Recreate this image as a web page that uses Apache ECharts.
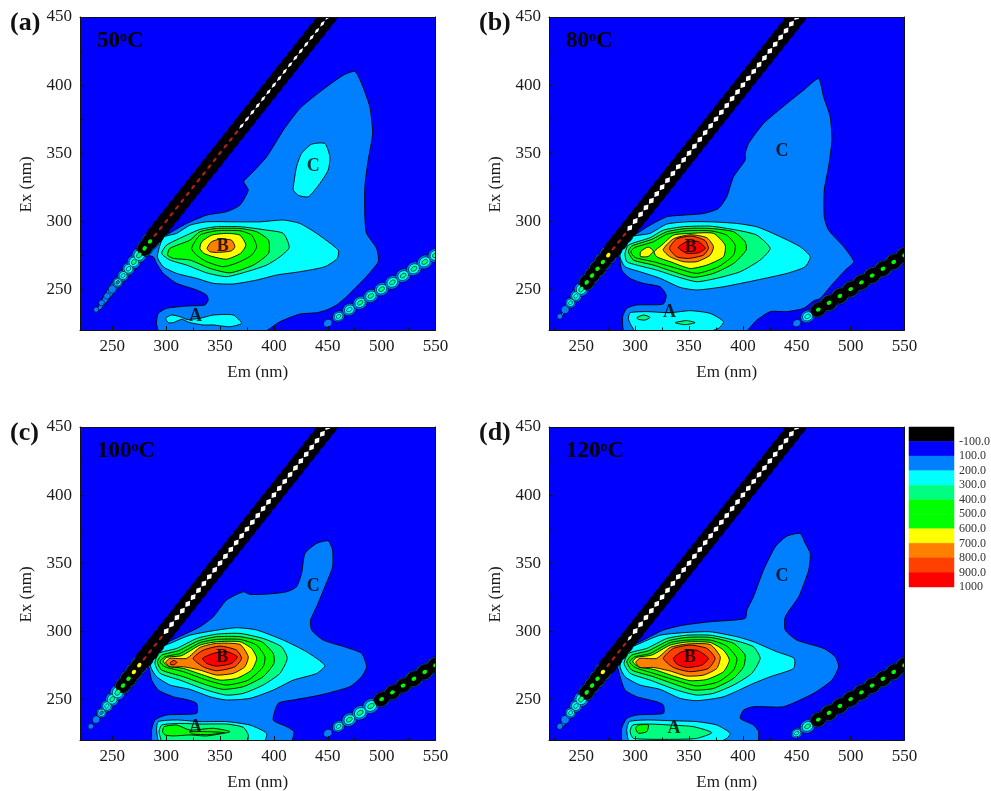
<!DOCTYPE html>
<html><head><meta charset="utf-8">
<style>html,body{margin:0;padding:0;background:#fff}#c{width:991px;height:791px;filter:blur(0.45px)}</style>
<script src="https://cdn.jsdelivr.net/npm/echarts@6/dist/echarts.min.js"></script>
</head><body><div id="c"></div>
<script>
// ---------- legend ----------
const legendLabels=['-100.0','100.0','200.0','300.0','400.0','500.0','600.0','700.0','800.0','900.0','1000'];
const legendColors=['#000000','#0000ff','#0080ff','#00ffff','#00ff80','#00ff00','#00ff00','#ffff00','#ff8000','#ff4000','#ff0000'];
const levels=[-100,100,200,300,400,500,600,700,800,900,1000];
// ---------- axes ----------
const majorX=[250,300,350,400,450,500,550];
const minorX=[225,275,325,375,425,475,525];
const majorY=[250,300,350,400,450];
const minorY=[225,275,325,375,425];
// ---------- contour outlines, [Em, Ex] in nm ----------
const a200=[[235.5,234.7],[248,253],[266,271],[282,287],[297.3,289],[319,298.3],[337.5,304.4],[356,306.9],[368.5,311.8],[376.2,322.8],[372,329],[377.7,333.8],[393.2,347.2],[408.7,366.8],[424,382.7],[442.7,395],[464.3,407.2],[475.2,410],[481.4,401],[489,384],[491.6,364.4],[487.5,344.8],[484.4,325.2],[484.4,303.2],[486,291],[495.3,280],[496.8,270.2],[484.4,258],[475.2,250.6],[467.4,244.5],[458.2,238.4],[448.9,234.7],[439.6,232.7],[424.1,231.7],[405.6,226.1],[388.6,218],[294.2,218],[291,224.9],[292.7,232.2],[300.4,235.9],[319,237.6],[336,238.4],[339,242],[337.5,245.7],[328.3,249.4],[309.7,254.3],[297.3,261.6],[291,269],[288,273.8],[281.9,274.3],[269.5,262.8],[252.5,248.1],[238.6,234.7]];
const a300=[[291.8,273.8],[297.3,288],[309.7,291],[322,297],[337.5,299.5],[362,299.5],[387,299.5],[408.7,300.8],[424,298.3],[439.6,291],[459.7,278.7],[458.8,272.6],[447.3,266.5],[424,262.8],[402.5,260.4],[384,256.7],[362,253.8],[343.7,254.3],[328,258],[309.7,261.6],[297.3,266.5]];
const a300A=[[299.5,228.6],[305,231],[312.8,229.8],[319,227.8],[331.3,228.6],[343.7,231],[362.3,231],[370,224.9],[359,222.4],[343.7,223.7],[334.4,223.7],[322,225.4],[314.3,227.8],[306.6,225.4],[302,225.4]];
const a300C=[[418,325.2],[421,339.9],[425.7,349.7],[435,356.5],[447.3,357],[452,347.2],[450.4,337.5],[442.7,327.7],[431.9,317.9],[422.6,319],[418,322.8]];
const a400=[[295.8,276.3],[300.4,282.4],[319,289.7],[331.3,293.9],[346.8,295.9],[368.5,295.9],[393.2,293.4],[408.7,291],[414.2,280.7],[405.6,273.8],[393.2,267.7],[374.6,262.8],[356,259.2],[337.5,262],[319,267.7],[303.5,271.4]];
const a500=[[301.3,275],[303.5,280],[322,286],[331.3,292.2],[346.8,294.6],[368.5,294.6],[384,292.2],[395,286],[395,276.3],[380.8,267.7],[359.2,262],[340.6,265.3],[322,271.4],[306.6,272.6]];
const a600=[[323.6,280],[331.3,289.7],[346.8,292.9],[368.5,292.9],[379.3,289.7],[384,281.2],[379.3,275],[367,269.7],[353,266.5],[337.5,270.2],[328.3,275]];
const a700=[[331.3,280],[333,284.8],[342.2,289.7],[356,291],[368.5,289.7],[374,282.4],[369,276.3],[356,272],[343.7,273.8],[335,276.3]];
const a800=[[338,280],[342,284.8],[350,286.8],[360.7,286],[363.8,281.2],[360.7,278.2],[348.4,277],[340.6,277.5]];

const b200=[[230.2,229.8],[243,248],[262,267],[282,287],[298.4,289.7],[313.8,297],[329.3,303.2],[344.8,304.4],[363.4,305.6],[377.3,309.3],[385,317.9],[391.3,332.6],[402.1,344.8],[402.1,349.7],[405.2,357],[419.1,371.7],[440.8,386.4],[456.3,396.2],[470.2,404.7],[474.9,391.3],[481,376.6],[482.6,359.5],[479.5,339.9],[475.5,322.8],[475.5,303.2],[479.5,293.4],[493.5,281.2],[502.8,270.2],[495,264],[481,251.8],[471.8,243.2],[465.6,241.5],[456.3,235.9],[440.8,233.5],[425.3,233.5],[412.9,227.3],[400.6,218],[290.6,218],[288.4,229.8],[292.2,235.9],[301.5,238.4],[326.2,239.1],[328.7,245.7],[323.1,251.8],[307.6,254.3],[295.3,257.9],[287.5,264],[285,273.8],[279.8,273.8],[264.3,260.4],[248.8,248.1],[233.3,231]];
const b300=[[286,273.8],[288.4,284.8],[298.4,289],[313.8,291],[329.3,297.8],[347.9,299.5],[369.6,299.5],[394.3,298.3],[412.9,295.8],[431.5,289.7],[453.1,281.2],[462.5,273.8],[457.8,266.5],[440.8,261.6],[412.9,256.7],[382,251.8],[357.2,249.4],[341.7,251.3],[323.1,258],[304.5,262.8],[290.6,266.5]];
const b300A=[[293.7,228.6],[295.3,232.7],[310.8,233.5],[332.4,232.7],[351,234.2],[369.6,232.2],[382,226.1],[377.3,221.2],[363.4,218],[301.5,218],[295.3,224.9]];
const b400=[[290.6,276.3],[293.7,282.4],[313.8,287.8],[326.2,293.4],[344.8,295.9],[369.6,296.3],[394.3,293.4],[412.9,289.7],[425.3,280],[416,271.4],[397.4,262.8],[375.8,258],[357.2,255.5],[338.6,259.2],[320,264],[301.5,267.7],[292.2,270.2]];
const b400s1=[[301.5,229],[307.6,231],[313.8,229.3],[309.2,227.3],[303,227.8]];
const b400s2=[[337,225.4],[347.9,226.9],[355.6,225.4],[346.4,223.9]];
const b500=[[293.7,277.5],[296.8,281.7],[315.4,286.6],[329.3,292.2],[347.9,294.6],[369.6,294.6],[391.3,292.2],[402.1,284.8],[403,278.7],[391.3,268.9],[372.7,261.6],[354,258.7],[335.5,262.8],[316.9,267.7],[298.4,271.4]];
const b600=[[295.9,277.5],[299.9,280.7],[316.9,284.8],[329.3,290.4],[347.9,292.9],[369.6,292.9],[385,289.7],[392.8,282.4],[391.3,275],[377.3,266.5],[357.2,261.6],[338.6,265.3],[316.9,270.2],[299.9,273.3]];
const b700s=[[305,277.5],[312,281],[317,278],[312,274],[305,274]];
const b700=[[317.6,277.5],[324.7,282.4],[335.5,289.7],[351,291],[372.7,291],[383.5,282.4],[382,273.8],[366.5,267.7],[351,265.2],[332.4,270.2],[320,273.8]];
const b800=[[326,279],[335.5,287],[351,290],[366.5,287.8],[372.7,281.2],[369.6,275],[357.2,270.2],[344.8,270.2],[332.4,273.8]];
const b900=[[331.8,280],[338.6,287],[352.5,289],[365,285.6],[368,280],[363.4,275],[349.5,272.6],[338.6,273.8]];
const b1000=[[340,280.7],[348,285],[358.7,285],[365,280],[358.7,276.8],[348,276.3]];

const c200=[[230.8,229.8],[243,248],[262,267],[280,285],[302,292.2],[331.3,303.2],[343.7,310.5],[356,322.8],[371.6,328.9],[377.7,327],[393.2,327.2],[411.8,328.9],[421,332.6],[425.7,342.4],[428.8,357],[439.6,364.4],[450.4,366.3],[454.4,359.5],[454.4,347.2],[447.3,332.6],[439.6,317.9],[434,308.1],[435,300.8],[445.8,293.4],[467.4,288],[481.4,283.6],[486,273.8],[481.4,266.5],[470.5,259.2],[442.7,253],[418,249.4],[404,246.9],[399.4,234.7],[411.8,229.8],[418.6,226.1],[414.9,218],[288,218],[286.5,227.3],[289.6,234.7],[300.4,238.4],[328.3,239.6],[328.3,246.9],[320.5,249.4],[306.6,251.8],[292.7,256.7],[286.5,264],[283.4,273.8],[269.5,260.4],[251,245.7],[233.9,232.2]];
const c300=[[285.6,273.8],[288,286],[303.5,291],[322,297],[343.7,300.3],[365.4,302.5],[384,300.8],[408.7,293.4],[430.3,284.8],[447.3,274.8],[439.6,268.9],[418,264],[399.4,256.7],[377.7,250.6],[356,249.4],[340.6,251.8],[322,257.2],[303.5,260.4],[291.2,266.5]];
const c300A=[[291.1,227.3],[292.7,233.5],[309.7,234.7],[331.3,233.5],[356,233.5],[377.7,231],[393.2,224.9],[390,218],[294.3,218]];
const c400=[[289.6,276.3],[292.7,283.6],[309.7,287.3],[328.3,294.6],[346.8,297.8],[368.5,298.3],[390,294.6],[407,288.5],[412.4,280],[405.6,269],[390,260.4],[371.6,254.3],[356,253],[337.5,256.7],[312.8,264],[294.3,269]];
const c400A=[[293.4,226.1],[295.8,231],[312.8,232.2],[331.3,231.7],[356,231.7],[371.6,229.3],[376.2,223.7],[374.6,218],[297.3,218]];
const c500=[[291.8,277.5],[295.8,282.4],[311.3,285.6],[329.8,292.9],[346.8,295.9],[368.5,295.9],[388.6,292.2],[399.4,283.6],[400,276.3],[390,266.5],[371.6,259.2],[353,257.2],[337.5,260.4],[315.9,266.5],[295.8,271.4]];
const c500A=[[296.7,226],[298,229.8],[309.7,231],[322,227.3],[343.7,228.6],[359.2,226.1],[337.5,223],[322,223.7],[306.6,223],[298.9,223.7]];
const c600=[[294.2,277.5],[298.9,281.2],[312.8,283.6],[331.3,291.5],[346.8,293.9],[368.5,293.9],[384,289.7],[391.6,281.2],[390,273.8],[376.2,264],[356,260.4],[337.5,264],[315.9,270.2],[298.9,273.8]];
const c600A=[[322,226],[340,226.1],[354,225.4],[340,224],[324,224.4]];
const c700=[[297.3,277.5],[300.4,280.7],[314.3,282],[331.3,289.7],[346.8,292.2],[368.5,292.2],[379.3,287.3],[384,280],[379.3,271.4],[365.4,265.3],[350,264],[334.4,267.7],[315.9,272.6],[302,274.3]];
const c800=[[299.5,277],[303.5,280],[319,280],[331.3,288],[346.8,291],[368.5,290.2],[376.2,281.2],[373,273.8],[362.3,269],[346.8,267.7],[331.3,271.4],[315.9,273.8],[303.5,273.8]];
const c900=[[325,280],[334.4,286],[350,289],[365.4,286],[370,280],[363.8,273.8],[346.8,270.9],[334.4,273.8]];
const c900s=[[304,277],[307,278.5],[310,277],[307,275.2],[304,275.5]];
const c1000=[[333.8,280],[343.7,283.6],[356,285],[366,281.2],[360.7,276.3],[346.8,274.3],[337.5,276.3]];

const d200=[[228.7,228.6],[241,246],[260,265],[279,284],[304.5,292.2],[326.2,300.8],[344.8,304.4],[369.6,306.9],[402,309.3],[403.7,315.4],[409.8,325.2],[419.1,344.8],[430,361.9],[440.8,369.8],[453.2,371.7],[457.9,364.4],[462.5,357],[461,344.8],[451.7,325.2],[439.3,310.5],[439.3,300.8],[450,293.4],[474.9,287.3],[485.7,281.2],[488.8,273.8],[482.6,264],[465.6,254.3],[437.7,244.5],[409.8,244.5],[400.6,242],[397.5,235.9],[409.8,231],[414.5,226.1],[413,218],[289,218],[287.5,228.6],[292.2,235.9],[301.5,238.4],[326.2,239.6],[326.2,245.7],[320,248.1],[301.5,251.8],[290.6,256.7],[286,266.5],[282.9,273.8],[270.5,262.8],[251.9,246.9],[233.3,229.8]];
const d300=[[286,273.8],[289,284.8],[304.5,291],[323.1,297],[344.8,298.9],[369.6,299.5],[394.3,295.9],[409.8,292.2],[431.5,284.8],[447.6,280],[447,272.6],[425.3,266.5],[409.8,261.6],[382,251.8],[357.2,248.9],[341.7,250.6],[323.1,257.2],[304.5,260.4],[290.6,266.5]];
const d300A=[[292.2,227.3],[294.6,233.5],[310.7,234.7],[332.4,234.2],[357.2,233.5],[375.8,231],[388.2,224.9],[385,221.2],[375.8,218],[295.3,218]];
const d400=[[289.7,276.3],[293.7,283.6],[310.7,287.3],[329.3,294.6],[347.9,297],[369.6,297],[391.3,293.4],[409.8,288.5],[416,280],[408.3,269],[391.3,260.4],[372.7,254.3],[357.2,253],[338.6,256.7],[313.8,264],[295.3,269]];
const d400A=[[295.3,226.1],[297.7,231],[313.8,231.7],[332.4,231],[354,229.8],[371.1,225.4],[357.2,221.2],[335.5,220.5],[298.4,221.2]];
const d500=[[292.2,277.5],[296.8,282.4],[312.3,285.6],[330.9,292.9],[347.9,295.4],[369.6,295.4],[391.3,291],[402,282.4],[400.6,273.8],[391.3,265.3],[372.7,257.9],[354,256.7],[338.6,260.4],[316.9,266.5],[296.8,271.4]];
const d500A=[[300.4,228.6],[303,231],[312.3,231],[310.7,226.1],[303,225]];
const d600=[[294.6,277.5],[299.9,281.2],[313.8,283.6],[332.4,291.5],[347.9,293.4],[369.6,293.4],[385,289],[394.4,280],[391.3,271.4],[377.3,262.8],[357.2,259.7],[338.6,263.6],[316.9,269],[299.9,273.3]];
const d700=[[297.7,277.5],[301.5,280.7],[315.4,282.4],[332.4,289.7],[347.9,292],[369.6,291.7],[382,286],[387.5,278.7],[382,270.2],[366.5,264.5],[351,263.6],[335.5,267],[316.9,271.9],[303,273.8]];
const d800=[[300.5,277],[304.5,280],[320,280],[332.4,288],[347.9,290.5],[369.6,290.2],[378.9,281.2],[375.8,272.6],[363.4,267.7],[347.9,267],[332.4,270.7],[316.9,273.3],[304.5,273.3]];
const d900=[[326.2,280],[335.5,287.3],[351,289.7],[366.5,287.3],[374.2,280],[368,272.6],[351,270.2],[335.5,273.3]];
const d1000=[[335.5,280],[343.2,284.8],[357.2,286],[368,280],[361.8,275],[347.9,273.3],[338.6,275.8]];

// ---------- scatter ridges: Ex, Em, intensity ----------
const ridgeEx=[230,235,240,245,250,255,260,265,270,275,280,285,290,295,300,305,310,315,320,325,330,335,340,345,350,355,360,365,370,375,380,385,390,395,400,405,410,415,420,425,430,435,440,445,450,455,460];
const ridgeEm=[230,235,240,245,250,255,260,265,270,275,280,285,290,295,300,305,310,315,320,325,330,335,340,345,350,355,360,365,370,375,380,385,390,395,400,405,410,415,420,425,430,435,440,445,450,455,460];
const ridgeA=[0,190,205,215,250,290,320,360,400,440,500,620,820,900,950,950,950,950,950,950,950,950,950,950,950,950,950,950,1100,1100,1100,1100,1100,1100,1100,1100,1100,1100,1100,1100,1100,1100,1100,1100,1100,1100,1100];
const ridgeB=[200,250,300,340,420,500,560,600,650,750,900,950,1000,1200,1200,1200,1200,1200,1200,1200,1200,1200,1200,1200,1200,1200,1200,1200,1200,1200,1200,1200,1200,1200,1200,1200,1200,1200,1200,1200,1200,1200,1200,1200,1200,1200,1200];
const ridgeC=[200,240,290,340,400,460,520,600,700,760,850,950,950,950,1200,1200,1200,1200,1200,1200,1200,1200,1200,1200,1200,1200,1200,1200,1200,1200,1200,1200,1200,1200,1200,1200,1200,1200,1200,1200,1200,1200,1200,1200,1200,1200,1200];
const ridgeD=[210,260,310,360,450,520,580,620,720,800,900,950,950,1150,1200,1200,1200,1200,1200,1200,1200,1200,1200,1200,1200,1200,1200,1200,1200,1200,1200,1200,1200,1200,1200,1200,1200,1200,1200,1200,1200,1200,1200,1200,1200,1200,1200];
const secondEx=[225,230,235,240,245,250,255,260,265,270,275,280];
const secondEm=[450,460,470,480,490,500,510,520,530,540,550,560];
const secondA=[250,330,380,400,410,410,420,420,430,430,430,430];
const secondB=[240,390,520,600,600,620,620,620,620,620,620,620];
const secondC=[250,340,420,450,470,500,510,560,620,620,620,620];
const secondD=[300,420,560,620,620,620,620,620,620,620,620,620];
// ---------- annotations ----------
const peakNames=['A','B','C'];
const peaksA=[[327.3,229.8],[352.4,281.2],[436.5,340.4]];
const peaksB=[[331.8,232.7],[351.6,280.7],[436.2,351.6]];
const peaksC=[[327.3,229.3],[352,280.4],[436.5,332.6]];
const peaksD=[[336,228.6],[351,280.7],[436.2,340.4]];
const panelLetters=['(a)','(b)','(c)','(d)'];
const panelTemps=['50','80','100','120'];

const panels=[
 {layers:[[200,a200],[300,a300],[300,a300A],[300,a300C],[400,a400],[500,a500],[600,a600],[700,a700],[800,a800]],ridge:ridgeA,second:secondA,peaks:peaksA},
 {layers:[[200,b200],[300,b300],[300,b300A],[400,b400s1],[400,b400s2],[400,b400],[500,b500],[600,b600],[700,b700s],[700,b700],[800,b800],[900,b900],[1000,b1000]],ridge:ridgeB,second:secondB,peaks:peaksB},
 {layers:[[200,c200],[300,c300],[300,c300A],[400,c400],[400,c400A],[500,c500],[500,c500A],[600,c600],[600,c600A],[700,c700],[800,c800],[900,c900],[900,c900s],[1000,c1000]],ridge:ridgeC,second:secondC,peaks:peaksC},
 {layers:[[200,d200],[300,d300],[300,d300A],[400,d400],[400,d400A],[500,d500],[500,d500A],[600,d600],[700,d700],[800,d800],[900,d900],[1000,d1000]],ridge:ridgeD,second:secondD,peaks:peaksD}
];
const boxes=[{l:80,t:17},{l:549,t:17},{l:80,t:427},{l:549,t:427}];
const W=355.5,H=313;
const SERIF="'Liberation Serif','Times New Roman',serif";
const INK='#1a1a1a';

function colorOf(v){
  if(v>=1100)return '#ffffff';
  let c=legendColors[1];
  for(let i=0;i<levels.length;i++) if(v>=levels[i]) c=legendColors[i];
  return c;
}
function ell(cx,cy,rx,ry,ang,n){
  const o=[];
  for(let k=0;k<n;k++){
    const t=2*Math.PI*k/n,x=rx*Math.cos(t),y=ry*Math.sin(t);
    o.push([cx+x*Math.cos(ang)-y*Math.sin(ang),cy+x*Math.sin(ang)+y*Math.cos(ang)]);
  }
  return o;
}
function ridgeRender(slope,stretch,scale){
  return function(params,api){
    const em=api.value(0),ex=api.value(1),v=api.value(2),ring=api.value(3);
    const p=api.coord([em,ex]),q=api.coord([em+slope,ex+1]);
    const ang=Math.atan2(q[1]-p[1],q[0]-p[0]);
    let r=v<300?2.4+(v-200)/100*2.2:(v<500?4.6+(v-300)/200*2.6:(v<600?7.2:7.8));
    r=Math.max(r,1.8)*scale;
    const rx=r*stretch;
    let pts=null,fill,stroke='#000',lw=0.6;
    if(ring===0){pts=ell(p[0],p[1],rx,r,ang,18);fill=v>=800?'#000':'#0080ff';}
    else if(ring===1&&v>=280){pts=ell(p[0],p[1],rx*0.72,r*0.72,ang,16);fill='#00ffff';}
    else if(ring===2&&v>=480){pts=ell(p[0],p[1],rx*0.88,r*0.88,ang,16);fill='#000';}
    else if(ring===3&&v>=280){
      fill=colorOf(v);
      if(v>=1200){pts=ell(p[0],p[1],3.9,2.7,ang,4);stroke=null;}
      else if(v>=1100){pts=ell(p[0],p[1],3.8,1.5,ang,4);stroke=null;}
      else if(v>=800){pts=ell(p[0],p[1],2.8,1.2,ang,8);fill='#b02020';stroke=null;}
      else if(v>=480){pts=ell(p[0],p[1],2.6,2,ang,8);stroke=null;}
      else {pts=ell(p[0],p[1],rx*0.42,r*0.32,ang,10);}
    }
    if(!pts)return null;
    return {type:'polygon',shape:{points:pts},style:{fill:fill,stroke:stroke,lineWidth:stroke?lw:0}};
  };
}
function ringData(ems,exs,vals){
  const o=[];
  for(let ring=0;ring<4;ring++) for(let i=0;i<vals.length;i++) if(vals[i]>0) o.push([ems[i],exs[i],vals[i],ring]);
  return o;
}

const grid=[],xAxis=[],yAxis=[],series=[],title=[];
panels.forEach((pn,i)=>{
  const b=boxes[i];
  grid.push({left:b.l,top:b.t,width:W,height:H,show:true,backgroundColor:'#0000ff',borderWidth:0,containLabel:false,outerBoundsMode:'none'});
  const gx=xAxis.length,gy=yAxis.length;
  const base={min:220,max:550,gridIndex:i,type:'value',z:6,splitLine:{show:false}};
  const baseY={min:220,max:450,gridIndex:i,type:'value',z:6,splitLine:{show:false}};
  xAxis.push(Object.assign({},base,{position:'bottom',name:'Em (nm)',nameLocation:'middle',nameGap:34,
    nameTextStyle:{fontFamily:SERIF,fontSize:17,color:INK},
    axisLine:{show:true,onZero:false,lineStyle:{color:'#111',width:1}},
    axisTick:{show:true,inside:true,length:4,customValues:majorX,lineStyle:{color:'#111'}},
    axisLabel:{show:true,margin:8,fontFamily:SERIF,fontSize:17,color:INK,customValues:majorX,showMinLabel:true,showMaxLabel:true}}));
  xAxis.push(Object.assign({},base,{position:'bottom',axisLine:{show:false},
    axisTick:{show:true,inside:true,length:2.5,customValues:minorX,lineStyle:{color:'#111'}},axisLabel:{show:false}}));
  xAxis.push(Object.assign({},base,{position:'top',axisLine:{show:true,onZero:false,lineStyle:{color:'#111',width:1}},axisTick:{show:false},axisLabel:{show:false}}));
  yAxis.push(Object.assign({},baseY,{position:'left',name:'Ex (nm)',nameLocation:'middle',nameGap:45,
    nameTextStyle:{fontFamily:SERIF,fontSize:17,color:INK,padding:[0,22,0,0]},
    axisLine:{show:true,onZero:false,lineStyle:{color:'#111',width:1}},
    axisTick:{show:true,inside:true,length:4,customValues:majorY,lineStyle:{color:'#111'}},
    axisLabel:{show:true,margin:8,fontFamily:SERIF,fontSize:17,color:INK,customValues:majorY,showMinLabel:true,showMaxLabel:true}}));
  yAxis.push(Object.assign({},baseY,{position:'left',axisLine:{show:false},
    axisTick:{show:true,inside:true,length:2.5,customValues:minorY,lineStyle:{color:'#111'}},axisLabel:{show:false}}));
  yAxis.push(Object.assign({},baseY,{position:'right',axisLine:{show:true,onZero:false,lineStyle:{color:'#111',width:1}},axisTick:{show:false},axisLabel:{show:false}}));

  series.push({type:'custom',coordinateSystem:'cartesian2d',xAxisIndex:gx,yAxisIndex:gy,clip:true,silent:true,animation:false,
    data:pn.layers.map(l=>[l[0]]),
    renderItem(params,api){
      const l=pn.layers[params.dataIndex];
      return {type:'polygon',shape:{points:l[1].map(p=>api.coord(p)),smooth:0.2},
        style:{fill:colorOf(l[0]),stroke:'#000',lineWidth:0.9}};
    }});
  series.push({type:'custom',coordinateSystem:'cartesian2d',xAxisIndex:gx,yAxisIndex:gy,clip:true,silent:true,animation:false,
    data:ringData(secondEm,secondEx,pn.second),renderItem:ridgeRender(2,1.2,1.05),encode:{x:0,y:1}});
  series.push({type:'custom',coordinateSystem:'cartesian2d',xAxisIndex:gx,yAxisIndex:gy,clip:true,silent:true,animation:false,
    data:ringData(ridgeEm,ridgeEx,pn.ridge),renderItem:ridgeRender(1,1.05,1.12),encode:{x:0,y:1}});
  series.push({type:'scatter',xAxisIndex:gx,yAxisIndex:gy,symbolSize:0,silent:true,animation:false,
    data:pn.peaks.map((p,k)=>({value:p,name:peakNames[k]})),
    label:{show:true,position:'inside',formatter:'{b}',fontFamily:SERIF,fontWeight:'bold',fontSize:18,color:'#000'}});

  title.push({text:panelLetters[i],left:b.l-70,top:b.t-7,padding:0,
    textStyle:{fontFamily:SERIF,fontWeight:'bold',fontSize:26,color:'#111'}});
  title.push({text:'{n|'+panelTemps[i]+'}{s|o}{n|C}',left:b.l+17,top:b.t+13,padding:0,
    textStyle:{rich:{n:{fontFamily:SERIF,fontWeight:'bold',fontSize:23,color:'#000'},
      s:{fontFamily:SERIF,fontWeight:'bold',fontSize:14,color:'#000',verticalAlign:'top'}}}});
});
// legend panel
const li=grid.length;
grid.push({left:909,top:427,width:45,height:160,show:false,outerBoundsMode:'none'});
const lx=xAxis.length,ly=yAxis.length;
xAxis.push({gridIndex:li,type:'value',min:0,max:1,show:false});
yAxis.push({gridIndex:li,type:'value',min:0,max:11,inverse:true,position:'right',
  axisLine:{show:false},axisTick:{show:false},splitLine:{show:false},
  axisLabel:{show:true,margin:5,fontFamily:SERIF,fontSize:12,color:'#333',customValues:[1,2,3,4,5,6,7,8,9,10,11],
    showMinLabel:true,showMaxLabel:true,formatter:v=>legendLabels[v-1]}});
series.push({type:'custom',coordinateSystem:'cartesian2d',xAxisIndex:lx,yAxisIndex:ly,silent:true,animation:false,
  data:legendLabels.map((s,i)=>[i]),
  renderItem(params,api){
    const i=params.dataIndex,a=api.coord([0,i]),b=api.coord([1,i+1]);
    return {type:'rect',shape:{x:a[0],y:a[1],width:b[0]-a[0],height:b[1]-a[1]},style:{fill:legendColors[i],stroke:legendColors[i],lineWidth:0.5}};
  }});

const chart=echarts.init(document.getElementById('c'),null,{renderer:'canvas'});
chart.setOption({animation:false,backgroundColor:'#fff',title,grid,xAxis,yAxis,series,tooltip:{show:false}});
</script></body></html>
